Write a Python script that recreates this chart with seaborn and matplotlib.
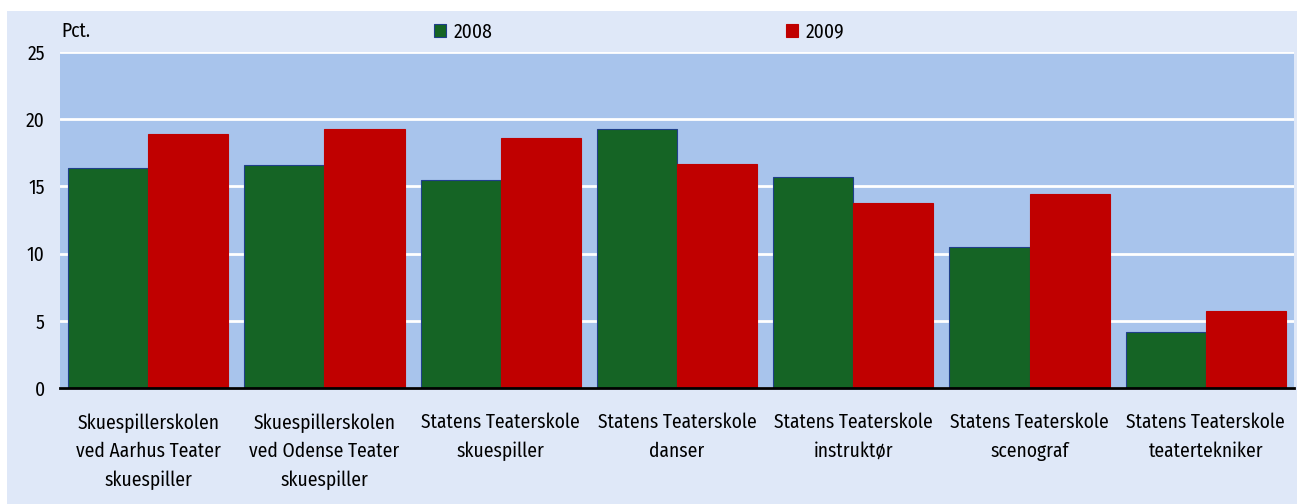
import matplotlib
matplotlib.use("Agg")
import matplotlib.pyplot as plt
from matplotlib.patches import Rectangle
import seaborn as sns
import pandas as pd

categories = [
    "Skuespillerskolen\nved Aarhus Teater\nskuespiller",
    "Skuespillerskolen\nved Odense Teater\nskuespiller",
    "Statens Teaterskole\nskuespiller",
    "Statens Teaterskole\ndanser",
    "Statens Teaterskole\ninstruktør",
    "Statens Teaterskole\nscenograf",
    "Statens Teaterskole\nteatertekniker",
]
years = ["2008", "2009"]
values_2008 = [16.4, 16.6, 15.5, 19.3, 15.7, 10.5, 4.2]
values_2009 = [18.9, 19.3, 18.6, 16.7, 13.8, 14.4, 5.7]
y_ticks = [0, 5, 10, 15, 20, 25]

df = pd.DataFrame({
    "cat": categories * 2,
    "year": [years[0]] * len(categories) + [years[1]] * len(categories),
    "val": values_2008 + values_2009,
})

sns.set_theme(style="white")
plt.rcParams["font.family"] = ["Fira Sans Condensed", "Liberation Sans", "DejaVu Sans"]
plt.rcParams["text.color"] = "black"
plt.rcParams["xtick.color"] = "black"
plt.rcParams["ytick.color"] = "black"

fig = plt.figure(figsize=(12.97, 5.04), dpi=100)
fig.patch.set_facecolor("white")
bg = Rectangle((7 / 1297, 0), 1 - 7 / 1297, 1 - 11 / 504, transform=fig.transFigure,
               facecolor="#DFE8F8", edgecolor="none", zorder=-10)
fig.patches.append(bg)

ax = fig.add_axes([60 / 1297, 1 - 388 / 504, (1294 - 60) / 1297, (388 - 52) / 504])
ax.set_facecolor("#A8C4EC")

palette = {"2008": "#156425", "2009": "#C00000"}
sns.barplot(data=df, x="cat", y="val", hue="year", palette=palette, width=0.91,
            saturation=1, ax=ax, legend=False, zorder=3)
for p in ax.patches:
    if p.get_facecolor()[1] > 0.3:
        p.set_edgecolor("#1F3F8A")
    else:
        p.set_edgecolor("#C00000")
    p.set_linewidth(0.8)

ax.set_xlim(-0.5, 6.5)
ax.set_ylim(0, 25)
ax.set_yticks(y_ticks)
ax.set_yticklabels([str(t) for t in y_ticks], fontsize=14)
ax.yaxis.grid(True, color="white", linewidth=2, zorder=1)
ax.set_axisbelow(True)
for s in ["top", "right", "left"]:
    ax.spines[s].set_visible(False)
ax.spines["bottom"].set_color("black")
ax.spines["bottom"].set_linewidth(2)
ax.spines["bottom"].set_zorder(5)
ax.tick_params(axis="y", length=0, pad=11)
ax.tick_params(axis="x", length=0, pad=18)
ax.set_xticks(range(len(categories)))
ax.set_xticklabels(categories, fontsize=14, linespacing=1.58)
ax.set_xlabel("")
ax.set_ylabel("")

fig.text(61 / 1297, 1 - 31 / 504, "Pct.", fontsize=14, va="center", ha="left")
for x0, x1, yr in [(434, 454, years[0]), (786, 806, years[1])]:
    fig.patches.append(Rectangle((x0 / 1297, 1 - 37 / 504), 12 / 1297, 13 / 504,
                                 transform=fig.transFigure, facecolor=palette[yr],
                                 edgecolor="#1F3F8A" if yr == "2008" else palette[yr],
                                 linewidth=0.8))
    fig.text(x1 / 1297, 1 - 32 / 504, yr, fontsize=14, va="center", ha="left")

fig.savefig("out.png", dpi=100, facecolor=fig.get_facecolor())
